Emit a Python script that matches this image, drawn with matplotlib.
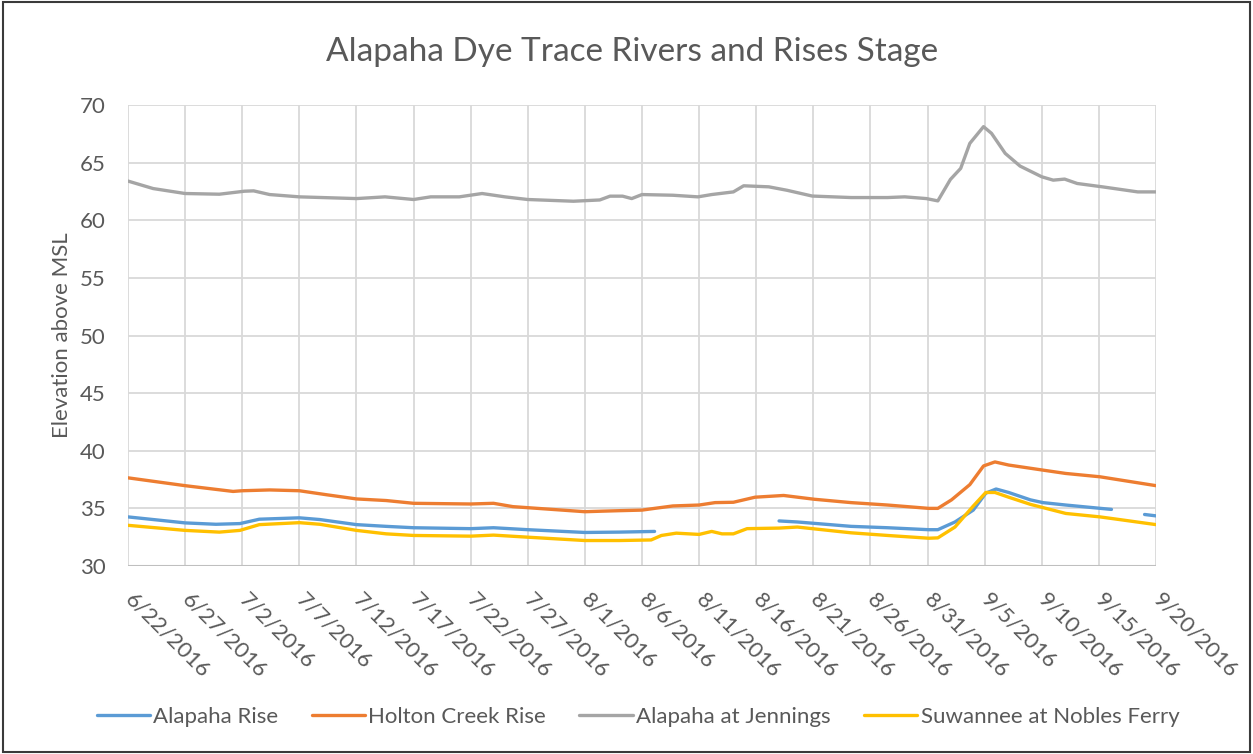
import matplotlib
matplotlib.use("Agg")
import matplotlib.pyplot as plt
from matplotlib.patches import Rectangle
import numpy as np

plt.rcParams['font.family'] = ['Lato', 'DejaVu Sans']

tick_labels = ["6/22/2016", "6/27/2016", "7/2/2016", "7/7/2016", "7/12/2016", "7/17/2016",
               "7/22/2016", "7/27/2016", "8/1/2016", "8/6/2016", "8/11/2016", "8/16/2016",
               "8/21/2016", "8/26/2016", "8/31/2016", "9/5/2016", "9/10/2016", "9/15/2016",
               "9/20/2016"]
tick_days = [0, 5, 10, 15, 20, 25, 30, 35, 40, 45, 50, 55, 60, 65, 70, 75, 80, 85, 90]

# days after 6/22/2016
rise_days = [0, 5, 7.7, 9.8, 11.5, 15, 16.8, 20, 22.6, 25, 30, 32, 35, 40, 43, 46.1, 51,
             57, 58.6, 63.3, 66.5, 70.1, 70.9, 72.4, 74, 75.1, 76, 77.1, 79, 80.1, 82.1, 86.1, 87.5,
             89, 90]
rise_vals = [34.26, 33.74, 33.62, 33.68, 34.06, 34.18, 34.03, 33.59, 33.44, 33.32, 33.24, 33.32,
             33.15, 32.91, 32.94, 33.0, np.nan,
             33.91, 33.82, 33.44, 33.32, 33.15, 33.15, 33.82, 34.85, 36.32, 36.68, 36.38, 35.74,
             35.5, 35.29, 34.91, np.nan,
             34.47, 34.35]

holton_days = [0, 5, 9.2, 10, 12.4, 15, 17.4, 20, 22.6, 25, 30, 32, 33.7, 35, 40, 41.6, 43, 45,
               46.1, 47.7, 50, 51.4, 53, 54.9, 57.4, 60.1, 63.3, 66.5, 70.1, 70.9, 72.1, 73.7,
               74.9, 75.9, 77.1, 80.1, 82.1, 85.1, 90]
holton_vals = [37.65, 36.97, 36.47, 36.53, 36.6, 36.53, 36.18, 35.82, 35.68, 35.44, 35.38, 35.44,
               35.15, 35.06, 34.71, 34.76, 34.8, 34.85, 35.0, 35.21, 35.29, 35.5, 35.53, 35.97,
               36.12, 35.79, 35.5, 35.29, 35.0, 35.0, 35.74, 37.06, 38.68, 39.03, 38.76, 38.32,
               38.03, 37.74, 36.97]

jennings_days = [0, 2.2, 5, 8, 10.2, 11, 12.4, 15, 20, 22.5, 25, 26.5, 29, 31, 33, 35, 39, 41.3,
                 42.2, 43.3, 44.1, 45, 47.7, 49.9, 51.1, 53, 53.9, 56.1, 57.7, 59.9, 63.3, 66.5,
                 68, 69.9, 70.9, 72, 72.9, 73.7, 74.9, 75.6, 76.8, 78.1, 80, 81, 82, 83.1, 85.3,
                 88.4, 90]
jennings_vals = [63.4, 62.75, 62.32, 62.26, 62.52, 62.55, 62.23, 62.03, 61.88, 62.03, 61.8, 62.03,
                 62.03, 62.32, 62.03, 61.8, 61.65, 61.76, 62.09, 62.09, 61.88, 62.23, 62.17,
                 62.03, 62.23, 62.46, 62.99, 62.9, 62.6, 62.1, 61.97, 61.97, 62.03, 61.88, 61.68,
                 63.54, 64.5, 66.67, 68.12, 67.54, 65.8, 64.7, 63.77, 63.48, 63.57, 63.19, 62.9,
                 62.46, 62.46]

nobles_days = [0, 5, 8, 9.8, 11.5, 15, 16.8, 20, 22.6, 25, 30, 32, 35, 40, 43, 45.8, 46.7, 48,
               50, 51.1, 52, 53, 54.2, 57, 58.6, 63.3, 66.5, 70.1, 70.9, 72.4, 74, 75.1, 75.9,
               77.1, 79, 82.1, 85.1, 86.8, 90]
nobles_vals = [33.53, 33.09, 32.94, 33.09, 33.59, 33.76, 33.62, 33.09, 32.79, 32.65, 32.59, 32.68,
               32.5, 32.21, 32.21, 32.26, 32.65, 32.85, 32.74, 33.0, 32.79, 32.79, 33.24, 33.29,
               33.38, 32.88, 32.65, 32.41, 32.44, 33.38, 35.2, 36.38, 36.38, 35.97, 35.35, 34.56,
               34.26, 34.03, 33.59]

series_names = ["Alapaha Rise", "Holton Creek Rise", "Alapaha at Jennings", "Suwannee at Nobles Ferry"]
colors = ["#5B9BD5", "#ED7D31", "#A5A5A5", "#FFC000"]
text_color = "#595959"

fig = plt.figure(figsize=(12.53, 7.54), dpi=100)
ax = fig.add_axes([128/1253, 1-566/754, (1156-128)/1253, (566-105)/754])

data = [(rise_days, rise_vals), (holton_days, holton_vals),
        (jennings_days, jennings_vals), (nobles_days, nobles_vals)]
for (d, v), name, c in zip(data, series_names, colors):
    ax.plot(d, v, color=c, lw=2.4, label=name, solid_joinstyle='round', solid_capstyle='round')

ax.set_xlim(0, 90)
ax.set_ylim(30, 70)
ax.set_yticks(range(30, 71, 5))
ax.set_xticks(tick_days)
ax.set_xticklabels(tick_labels, rotation=-45, ha='left', va='center', rotation_mode='anchor')
ax.grid(True, color="#D9D9D9", lw=1.3)
ax.set_axisbelow(True)
for s in ax.spines.values():
    s.set_visible(False)
ax.axhline(30, color="#BFBFBF", lw=1.5, zorder=1.5)
ax.tick_params(axis='both', length=0, colors=text_color, labelsize=16)
ax.tick_params(axis='y', pad=16)
ax.tick_params(axis='x', pad=22)
ax.set_ylabel("Elevation above MSL", color=text_color, fontsize=16, labelpad=6)

fig.text(0.5 * (323 + 942) / 1253, 1 - 52/754, "Alapaha Dye Trace Rivers and Rises Stage",
         ha='center', va='center', fontsize=24, color=text_color)

leg = fig.legend(loc='center', bbox_to_anchor=(638/1253, 1-717/754), ncol=4, frameon=False,
                 fontsize=16, handlelength=2.4, handletextpad=0.15, columnspacing=1.5)
for t in leg.get_texts():
    t.set_color(text_color)

fig.add_artist(Rectangle((0.002, 0.002), 0.996, 0.995, transform=fig.transFigure,
                         fill=False, edgecolor="#3A3A3A", lw=1.5))

fig.savefig("out.png", dpi=100)
